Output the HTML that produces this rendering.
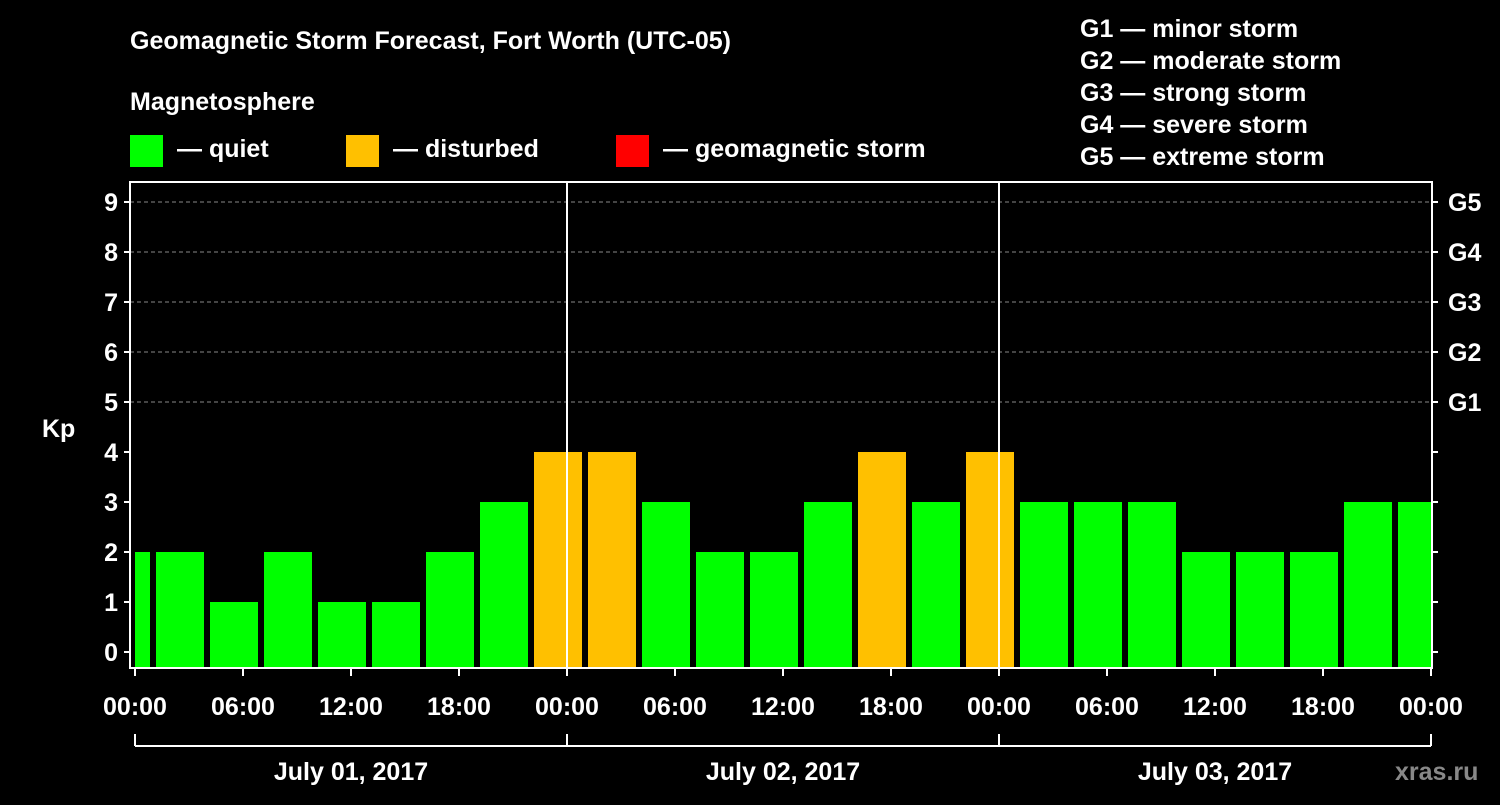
<!DOCTYPE html>
<html><head><meta charset="utf-8"><style>
body{margin:0;background:#000;}
svg text{font-family:"Liberation Sans",Arial,sans-serif;font-weight:bold;fill:#fff;}
</style></head><body>
<svg id="chart" width="1500" height="800" xmlns="http://www.w3.org/2000/svg">
<rect width="1500" height="800" fill="#000"/>
<text x="130" y="49" font-size="25">Geomagnetic Storm Forecast, Fort Worth (UTC-05)</text>
<text x="130" y="110" font-size="25">Magnetosphere</text>
<g>
<rect x="130" y="135" width="33" height="32" fill="#00ff00"/>
<text x="177" y="157" font-size="25">— quiet</text>
<rect x="346" y="135" width="33" height="32" fill="#ffc000"/>
<text x="393" y="157" font-size="25">— disturbed</text>
<rect x="616" y="135" width="33" height="32" fill="#ff0000"/>
<text x="663" y="157" font-size="25">— geomagnetic storm</text>
</g>
<g font-size="25">
<text x="1080" y="37">G1 — minor storm</text>
<text x="1080" y="69">G2 — moderate storm</text>
<text x="1080" y="101">G3 — strong storm</text>
<text x="1080" y="133">G4 — severe storm</text>
<text x="1080" y="165">G5 — extreme storm</text>
</g>
<text x="42" y="437" font-size="25">Kp</text>
<text x="1395" y="780" font-size="25" style="fill:#888">xras.ru</text>
<g id="plot"></g>
</svg>
<script>
const kpValues=[2,2,1,2,1,1,2,3,4,4,3,2,2,3,4,3,4,3,3,3,2,2,2,3,3];
const xTickLabels=["00:00","06:00","12:00","18:00","00:00","06:00","12:00","18:00","00:00","06:00","12:00","18:00","00:00"];
const dateLabels=["July 01, 2017","July 02, 2017","July 03, 2017"];
const yTicks=[0,1,2,3,4,5,6,7,8,9];
const gLabels=["G1","G2","G3","G4","G5"];
const NS="http://www.w3.org/2000/svg";
const g=document.getElementById("plot");
const L=130,R=1432,T=182,B=668,X0=135,PXH=18;
const y=v=>652-v*50;
const xh=h=>X0+h*PXH; // hours since 00:00 July 01 local
function mk(t,a){const e=document.createElementNS(NS,t);for(const k in a)e.setAttribute(k,a[k]);g.appendChild(e);return e;}
// grid
[5,6,7,8,9].forEach(v=>{const l=mk("line",{x1:L,x2:R,y1:y(v),y2:y(v),stroke:"#888","stroke-dasharray":"4,3","stroke-width":1});

});
// bars: slots start at local 22:00 previous day, 3 hours each
kpValues.forEach((v,i)=>{
 let s=xh(-2+3*i)+3, e=s+48;
 s=Math.max(s,X0); e=Math.min(e,xh(72));
 const r=mk("rect",{x:s,y:y(v),width:e-s,height:B-y(v),fill:v>=5?"#ff0000":(v>=4?"#ffc000":"#00ff00")});
 
 
});
// day separators
[24,48].forEach(h=>{const l=mk("line",{x1:xh(h),x2:xh(h),y1:T,y2:B,stroke:"#fff","stroke-width":2});

});
// frame
const f=mk("rect",{x:L,y:T,width:R-L,height:B-T,fill:"none",stroke:"#fff","stroke-width":2});


// y ticks
yTicks.forEach(v=>{
 mk("line",{x1:L-6,x2:L,y1:y(v),y2:y(v),stroke:"#fff","stroke-width":2});
 mk("line",{x1:R,x2:R+6,y1:y(v),y2:y(v),stroke:"#fff","stroke-width":2});
 const t=mk("text",{x:L-12,y:y(v)+9,"font-size":25,"text-anchor":"end"});t.textContent=v;
 
 
});
gLabels.forEach((s,i)=>{const t=mk("text",{x:1448,y:y(5+i)+9,"font-size":25});t.textContent=s;
 
 });
// x ticks
xTickLabels.forEach((s,i)=>{const x=xh(i*6);
 mk("line",{x1:x,x2:x,y1:B,y2:B+8,stroke:"#fff","stroke-width":2});
 const t=mk("text",{x:x,y:715,"font-size":25,"text-anchor":"middle"});t.textContent=s;
 
 });
// date bracket
mk("line",{x1:xh(0),x2:xh(72),y1:746,y2:746,stroke:"#fff","stroke-width":2});
[0,24,48,72].forEach(h=>mk("line",{x1:xh(h),x2:xh(h),y1:734,y2:746,stroke:"#fff","stroke-width":2}));
dateLabels.forEach((s,i)=>{const t=mk("text",{x:xh(24*i+12),y:780,"font-size":25,"text-anchor":"middle"});t.textContent=s;
 
 });
</script>
</body></html>
